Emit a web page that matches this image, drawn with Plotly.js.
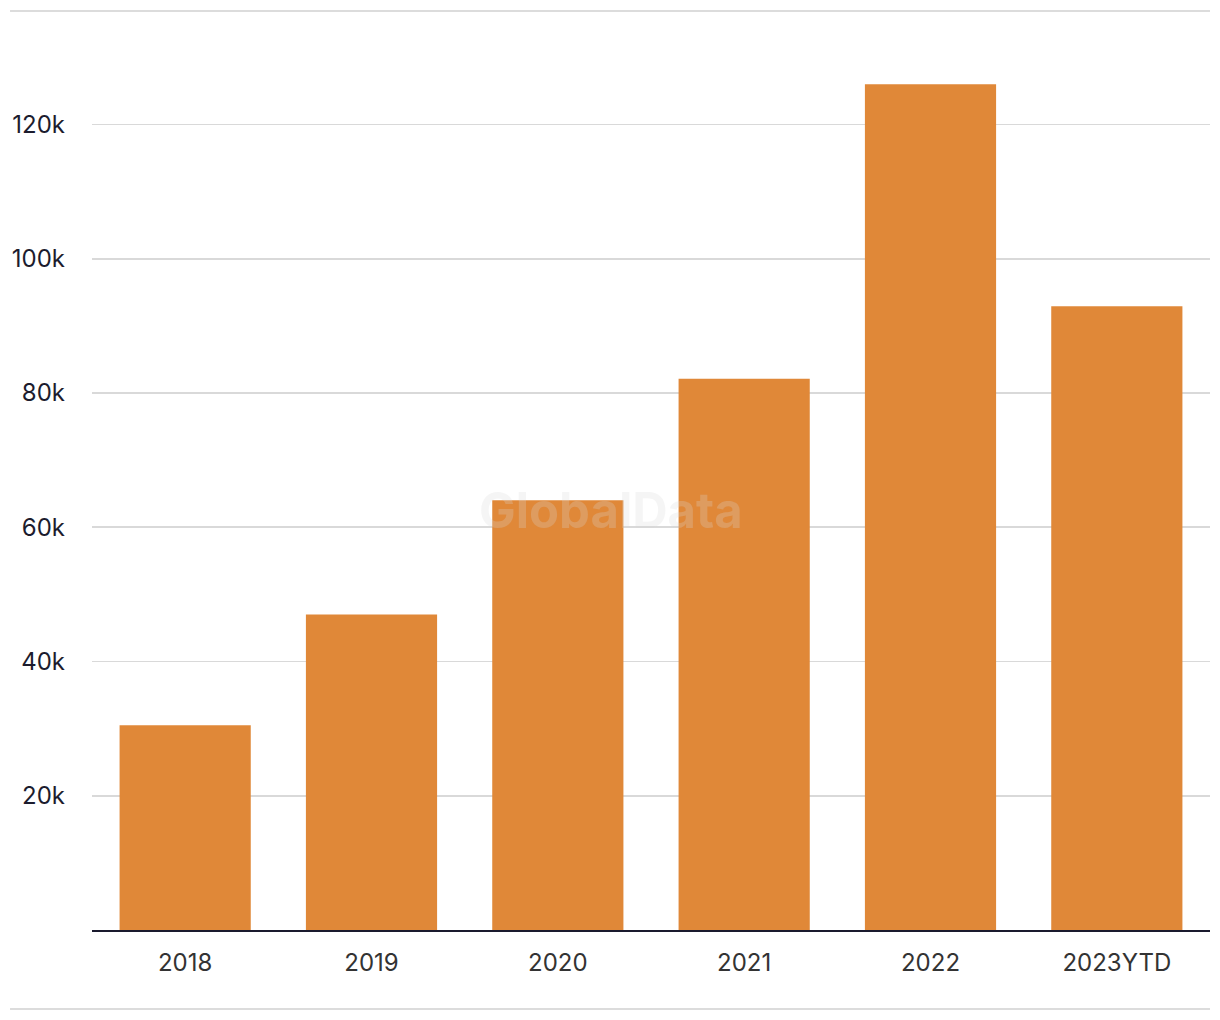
<!DOCTYPE html>
<html>
<head>
<meta charset="utf-8">
<script src="https://cdn.plot.ly/plotly-3.0.1.min.js"></script>
<style>html,body{margin:0;padding:0;background:#fff;}#chart{width:1220px;height:1020px;}</style>
</head>
<body>
<div id="chart"></div>
<script>
const categories = ["2018", "2019", "2020", "2021", "2022", "2023YTD"];
const values = [30500, 47000, 64000, 82100, 126000, 92900];
const tickValues = [20000, 40000, 60000, 80000, 100000, 120000];
const tickLabels = ["20k", "40k", "60k", "80k", "100k", "120k"];

const trace = {
  type: "bar",
  x: categories,
  y: values,
  marker: {color: "#E08838"},
  hoverinfo: "x+y"
};

const layout = {
  width: 1220,
  height: 1020,
  margin: {l: 92, r: 10, t: 11, b: 90},
  paper_bgcolor: "#ffffff",
  plot_bgcolor: "#ffffff",
  showlegend: false,
  bargap: 0.296,
  font: {family: "Inter, 'Open Sans', sans-serif", size: 24, color: "#1c1c2e"},
  xaxis: {
    type: "category",
    showgrid: false,
    showline: true,
    linecolor: "#1a1a2e",
    linewidth: 2,
    ticks: "",
    ticklabelstandoff: 10,
    tickfont: {size: 24, color: "#333333"},
    fixedrange: true
  },
  yaxis: {
    range: [0, 136900],
    tickvals: tickValues,
    ticktext: tickLabels,
    showgrid: true,
    gridcolor: "#d9d9d9",
    gridwidth: 1.6,
    zeroline: false,
    showline: false,
    ticks: "",
    ticklabelstandoff: 26,
    tickfont: {size: 24, color: "#1c1c2e"},
    fixedrange: true
  },
  shapes: [
    {type: "line", xref: "paper", yref: "paper", x0: -0.0733, x1: 1, y0: 1, y1: 1,
     line: {color: "#dcdcdc", width: 2}},
    {type: "line", xref: "paper", yref: "paper", x0: -0.0733, x1: 1, y0: -0.086, y1: -0.086,
     line: {color: "#dcdcdc", width: 2}}
  ],
  annotations: [
    {text: "<b>GlobalData</b>", xref: "paper", yref: "paper", x: 0.464, y: 0.457,
     showarrow: false, font: {size: 49, color: "rgba(215,215,215,0.25)", family: "Inter, 'Open Sans', sans-serif"}}
  ]
};

Plotly.newPlot("chart", [trace], layout, {displayModeBar: false, staticPlot: true});
</script>
</body>
</html>
